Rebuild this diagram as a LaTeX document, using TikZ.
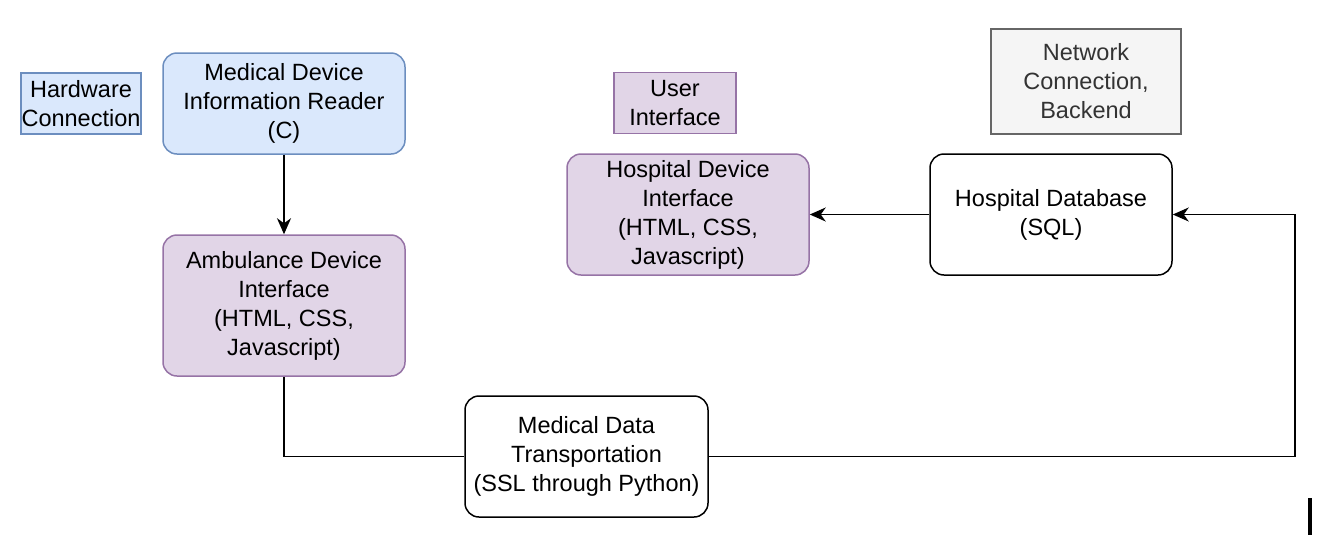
\documentclass[tikz,border=0pt]{standalone}
\usepackage{fontspec}
\setmainfont{Liberation Sans}
\usetikzlibrary{arrows.meta}
\definecolor{bluefill}{HTML}{DAE8FC}
\definecolor{bluedraw}{HTML}{6C8EBF}
\definecolor{violetfill}{HTML}{E1D5E7}
\definecolor{violetdraw}{HTML}{9673A6}
\definecolor{greyfill}{HTML}{F5F5F5}
\definecolor{greydraw}{HTML}{666666}
\definecolor{greytext}{HTML}{333333}

\begin{document}
\begin{tikzpicture}[x=1pt,y=-1pt,
    box/.style={draw,line width=1.5pt,align=center,inner sep=0pt,
      font=\fontsize{23.5}{29}\selectfont,text=black},
    block/.style={box,rounded corners=14pt,minimum width=242pt,minimum height=121pt},
    tag/.style={box,minimum height=61pt},
    hw/.style={fill=bluefill,draw=bluedraw},
    ui/.style={fill=violetfill,draw=violetdraw},
    net/.style={fill=greyfill,draw=greydraw,text=greytext},
    link/.style={line width=1.8pt,-{Stealth[length=16pt,width=14pt,inset=5pt]}},
    plain/.style={line width=1.8pt}]
  \useasboundingbox (0,0) rectangle (1322,544);

  % legend
  \node[tag,hw,minimum width=120pt] (hwtag) at (81,103.5) {Hardware\\Connection};
  \node[tag,ui,minimum width=122pt] (uitag) at (675,103) {User\\Interface};
  \node[tag,net,minimum width=190pt,minimum height=105pt] (nettag) at (1086,81.5)
    {Network\\Connection,\\Backend};

  % components
  \node[block,hw,minimum height=101pt] (reader) at (284,103.5)
    {Medical Device\\Information Reader\\(C)};
  \node[block,ui,minimum height=141pt] (ambulance) at (284,305.5)
    {Ambulance Device\\Interface\\(HTML, CSS,\\Javascript)};
  \node[block,ui] (hospital) at (688,214.5)
    {Hospital Device\\Interface\\(HTML, CSS,\\Javascript)};
  \node[block,fill=white] (database) at (1051,214.5) {Hospital Database\\(SQL)};
  \node[block,fill=white,minimum width=243pt] (transport) at (586.5,456.5)
    {Medical Data\\Transportation\\(SSL through Python)};

  \coordinate (turn) at (1295,214.5);

  \draw[link] (reader) -- (ambulance);
  \draw[plain] (ambulance.south) |- (transport.west);
  \draw[link] (transport.east) -| (turn) -- (database.east);
  \draw[link] (database.west) -- (hospital.east);

  \fill (1308,498) rectangle (1312,535);
\end{tikzpicture}
\end{document}
